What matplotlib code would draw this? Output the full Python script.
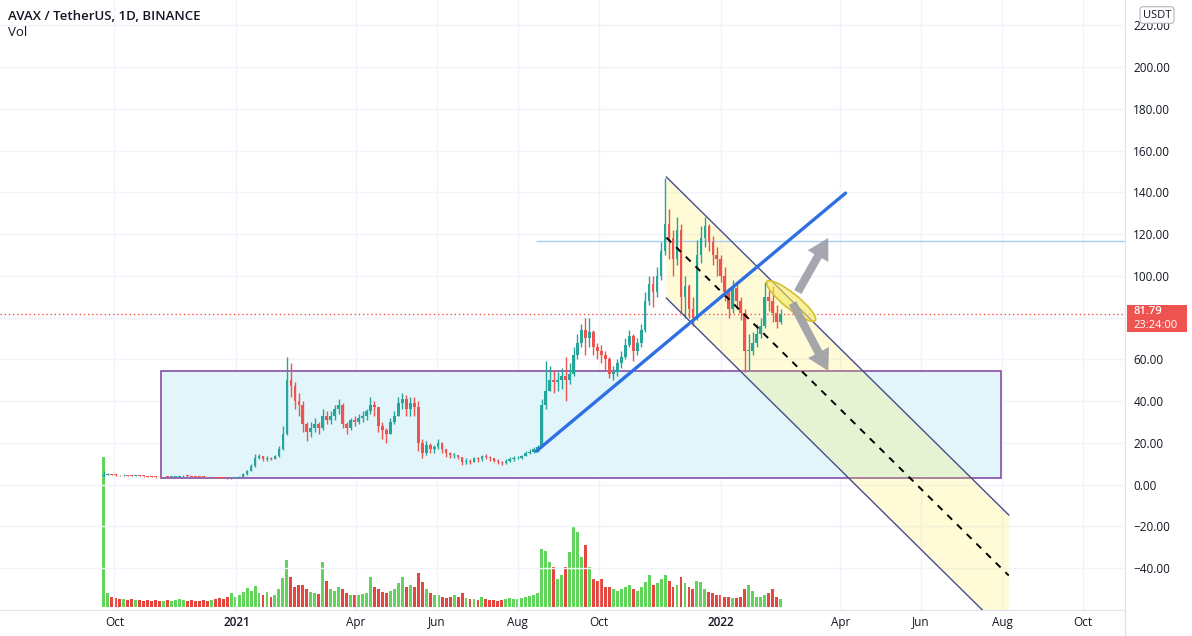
import numpy as np
import matplotlib.pyplot as plt
import matplotlib.dates as mdates
import matplotlib.patches as mpatches
import matplotlib.transforms as mtransforms
from matplotlib.lines import Line2D

# DATA -----------------------------------------------------------------------------------------------------------------
# AVAX/USDT, grouped into 3-day candles starting 2020-09-22
candle_start = '2020-09-22'
candle_days = 3
first_open = 4.0
close = [4.8, 4.9, 4.7, 4.5, 4.4, 4.6, 4.3, 4.2, 4.4, 4.1,
         4.0, 3.8, 3.6, 3.5, 3.4, 3.6, 3.5, 3.7, 3.8, 3.9,
         4.2, 4.0, 3.8, 3.7, 3.6, 3.5, 3.4, 3.5, 3.3, 3.2,
         3.1, 2.9, 3.0, 3.3, 3.6, 5.0, 6.5, 9.0, 12.5, 13.5,
         12.0, 12.8, 12.3, 13.5, 17.0, 24.0, 50.0, 47.0, 40.0, 38.0,
         29.0, 25.0, 27.0, 29.0, 27.0, 33.0, 31.0, 33.0, 36.0, 38.0,
         29.0, 27.0, 31.0, 30.0, 32.0, 33.0, 35.0, 38.0, 37.0, 28.0,
         26.0, 24.0, 30.0, 33.0, 39.0, 41.0, 36.0, 39.0, 37.0, 20.0,
         15.0, 19.0, 17.0, 18.0, 20.0, 17.0, 15.0, 14.0, 14.0, 13.0,
         11.0, 11.5, 11.0, 12.5, 12.0, 13.5, 13.0, 12.5, 11.5, 11.0,
         10.5, 11.5, 12.0, 12.5, 12.5, 13.5, 15.0, 15.5, 17.0, 18.0,
         38.0, 45.0, 50.0, 49.0, 50.0, 52.0, 50.0, 53.0, 62.0, 68.0,
         74.0, 70.0, 73.0, 66.0, 64.0, 62.0, 60.0, 53.0, 54.0, 58.0,
         61.0, 67.0, 71.0, 64.0, 68.0, 74.0, 88.0, 96.0, 92.0, 100.0,
         112.0, 125.0, 118.0, 108.0, 122.0, 90.0, 95.0, 84.0, 80.0, 110.0,
         118.0, 124.0, 116.0, 110.0, 108.0, 100.0, 92.0, 84.0, 94.0, 88.0,
         82.0, 64.0, 64.0, 68.0, 72.0, 76.0, 90.0, 88.0, 82.0, 78.0,
         81.79]
high = [6.5, 5.3, 5.1, 4.9, 4.8, 4.9, 4.7, 4.5, 4.6, 4.5,
        4.2, 4.1, 3.9, 3.7, 3.6, 3.8, 3.8, 3.9, 4.0, 4.1,
        4.5, 4.4, 4.1, 3.9, 3.8, 3.7, 3.6, 3.7, 3.6, 3.4,
        3.3, 3.2, 3.2, 3.5, 3.9, 5.4, 7.2, 10.0, 14.5, 14.8,
        13.8, 13.5, 13.2, 14.2, 18.5, 28.0, 61.0, 58.0, 49.0, 44.0,
        40.0, 30.0, 30.0, 32.0, 30.0, 36.0, 35.0, 35.0, 38.0, 41.0,
        39.0, 30.0, 32.0, 33.0, 34.0, 35.0, 36.0, 42.0, 40.0, 37.0,
        30.0, 27.0, 32.0, 35.0, 42.0, 44.0, 43.0, 42.0, 42.0, 40.0,
        22.0, 21.0, 20.0, 19.0, 22.0, 20.5, 17.0, 15.5, 15.0, 14.0,
        13.0, 12.5, 12.0, 13.0, 13.0, 14.0, 14.5, 13.5, 12.5, 12.0,
        11.5, 12.0, 13.0, 13.5, 13.5, 14.0, 16.0, 17.0, 18.0, 19.0,
        41.0, 59.0, 57.0, 55.0, 54.0, 56.0, 61.0, 58.0, 66.0, 72.0,
        77.0, 80.0, 80.0, 74.0, 68.0, 67.0, 64.0, 61.0, 57.0, 60.0,
        64.0, 70.0, 74.0, 72.0, 70.0, 77.0, 92.0, 100.0, 100.0, 104.0,
        116.0, 147.0, 132.0, 122.0, 128.0, 125.0, 100.0, 96.0, 90.0, 117.0,
        124.0, 128.0, 125.0, 119.0, 114.0, 110.0, 104.0, 94.0, 98.0, 96.0,
        90.0, 84.0, 72.0, 73.0, 77.0, 80.0, 97.0, 93.0, 95.0, 86.0,
        84.0]
low = [3.8, 4.5, 4.4, 4.3, 4.2, 4.2, 4.1, 4.0, 4.1, 3.9,
       3.8, 3.6, 3.4, 3.3, 3.2, 3.3, 3.3, 3.4, 3.6, 3.7,
       3.8, 3.8, 3.6, 3.5, 3.4, 3.3, 3.2, 3.2, 3.1, 3.0,
       2.9, 2.7, 2.8, 2.9, 3.2, 3.5, 4.8, 6.3, 8.6, 12.0,
       11.2, 11.5, 11.6, 12.0, 13.2, 16.5, 23.5, 42.0, 36.0, 33.0,
       25.0, 21.0, 23.0, 25.0, 24.0, 26.0, 29.0, 29.0, 31.0, 34.0,
       27.0, 24.0, 26.0, 28.0, 29.0, 30.0, 31.0, 34.0, 33.0, 25.0,
       22.0, 20.0, 24.0, 29.0, 33.0, 36.0, 33.0, 33.0, 33.0, 16.0,
       12.5, 14.0, 15.0, 15.0, 17.0, 15.0, 13.0, 12.5, 12.5, 12.0,
       9.5, 10.0, 10.0, 11.0, 11.0, 11.5, 12.0, 11.5, 11.0, 10.0,
       9.5, 10.0, 11.0, 11.5, 12.0, 12.0, 13.5, 14.5, 15.0, 15.5,
       18.0, 36.0, 45.0, 44.0, 45.0, 46.0, 40.0, 48.0, 52.0, 60.0,
       66.0, 62.0, 66.0, 62.0, 60.0, 58.0, 55.0, 51.0, 50.0, 52.0,
       56.0, 60.0, 66.0, 59.0, 62.0, 66.0, 73.0, 86.0, 85.0, 90.0,
       98.0, 110.0, 108.0, 100.0, 105.0, 82.0, 80.0, 80.0, 76.0, 79.0,
       106.0, 114.0, 112.0, 105.0, 100.0, 97.0, 88.0, 80.0, 82.0, 84.0,
       79.0, 54.0, 55.0, 62.0, 66.0, 70.0, 75.0, 83.0, 78.0, 75.0,
       77.0]
# relative volume (typical daily bar height of each 3-day group)
volume = [150, 14, 10, 9, 8, 8, 7, 8, 7, 7,
          6, 7, 6, 7, 6, 6, 7, 6, 7, 8,
          7, 6, 7, 6, 6, 7, 6, 7, 8, 9,
          8, 10, 14, 10, 12, 15, 19, 16, 21, 14,
          12, 15, 10, 12, 18, 29, 47, 30, 20, 22,
          22, 18, 15, 14, 13, 45, 26, 18, 16, 20,
          18, 14, 12, 12, 12, 13, 14, 30, 20, 18,
          15, 14, 16, 18, 24, 30, 20, 22, 20, 34,
          25, 18, 14, 12, 12, 10, 9, 10, 12, 10,
          14, 9, 8, 8, 7, 10, 8, 7, 7, 6,
          7, 8, 9, 8, 8, 9, 10, 11, 12, 14,
          58, 56, 45, 40, 28, 32, 40, 55, 80, 75,
          50, 62, 40, 28, 26, 28, 20, 20, 18, 16,
          18, 20, 22, 18, 16, 20, 25, 32, 22, 24,
          28, 32, 26, 20, 22, 30, 24, 20, 18, 26,
          25, 18, 15, 14, 12, 12, 10, 10, 9, 9,
          10, 18, 22, 16, 10, 10, 12, 14, 18, 10,
          8]
last_price = 81.79
countdown = '23:24:00'

price_ticks = [-40, -20, 0, 20, 40, 60, 80, 100, 120, 140, 160, 180, 200, 220]
time_ticks = ['2020-10-01', '2021-01-01', '2021-04-01', '2021-06-01', '2021-08-01', '2021-10-01',
              '2022-01-01', '2022-04-01', '2022-06-01', '2022-08-01', '2022-10-01']
time_labels = ['Oct', '2021', 'Apr', 'Jun', 'Aug', 'Oct', '2022', 'Apr', 'Jun', 'Aug', 'Oct']

# drawings on the chart (date, price anchors)
box_dates = ['2020-11-05', '2022-07-31']
box_prices = [3.1, 54.4]
trend_dates = ['2021-08-15', '2022-04-05']
trend_prices = [16.0, 139.6]
hline_start = '2021-08-15'
hline_price = 116.6
channel_dates = ['2021-11-21', '2022-08-06']
channel_top = [147.3, -14.6]
channel_bottom = [89.3, -72.6]
ellipse_date = '2022-02-23'
ellipse_price = 87.9
arrow_up = [('2022-02-28', 92.2), ('2022-03-23', 118.1)]
arrow_down = [('2022-02-24', 86.9), ('2022-03-23', 54.4)]

# STYLE ----------------------------------------------------------------------------------------------------------------
plt.rcParams['font.family'] = ['Open Sans', 'DejaVu Sans']
up_col, down_col = '#26a69a', '#ef5350'
vol_up, vol_down = '#62d45c', '#e5463f'
text_col = '#131722'


def dnum(s):
    return mdates.date2num(np.datetime64(s))


# FIGURE ---------------------------------------------------------------------------------------------------------------
fig = plt.figure(figsize=(11.92, 6.36), dpi=100)
ax = fig.add_axes([0, 26 / 636, 1125 / 1192, 610 / 636])
vol_ax = ax.twinx()
ax.set_zorder(vol_ax.get_zorder() + 1)
ax.patch.set_visible(False)

n = len(close)
xs = dnum(candle_start) + candle_days * np.arange(n) + 1
opens = np.array([first_open] + close[:-1])
closes = np.array(close)
ups = closes >= opens
cols = np.where(ups, up_col, down_col)

# volume, drawn behind the price
vol_ax.bar(xs, volume, width=2.2, color=np.where(ups, vol_up, vol_down), linewidth=0)
vol_ax.set_ylim(-3, 607)
vol_ax.yaxis.set_visible(False)
for s in vol_ax.spines.values():
    s.set_visible(False)

# box
bx0, bx1 = dnum(box_dates[0]), dnum(box_dates[1])
ax.add_patch(mpatches.Rectangle((bx0, box_prices[0]), bx1 - bx0, box_prices[1] - box_prices[0],
                                facecolor='#e1f5fa', edgecolor='#7f3f9f', linewidth=1.1, zorder=1))

# parallel channel
cx = [dnum(d) for d in channel_dates]
ax.fill([cx[0], cx[1], cx[1], cx[0]], [channel_top[0], channel_top[1], channel_bottom[1], channel_bottom[0]],
        color='#ffeb3b', alpha=0.2, linewidth=0, zorder=1.5)
ax.plot(cx, channel_top, color='#454e8e', linewidth=1, zorder=4)
ax.plot(cx, channel_bottom, color='#454e8e', linewidth=1, zorder=4)
ax.plot(cx, [(a + b) / 2 for a, b in zip(channel_top, channel_bottom)], color='black',
        linewidth=1.4, linestyle=(0, (3.5, 3.5)), zorder=4)

# candles
ax.vlines(xs, low, high, colors=cols, linewidth=1, zorder=3)
body = np.maximum(np.abs(closes - opens), 0.4)
ax.bar(xs, body, bottom=np.minimum(opens, closes), width=2.0, color=cols, linewidth=0, zorder=3)

# horizontal level, trend line and last price line
ax.hlines(hline_price, dnum(hline_start), dnum('2023-01-01'), color='#a8cdf0', linewidth=1, zorder=2)
ax.plot([dnum(d) for d in trend_dates], trend_prices, color='#2f6fe4', linewidth=2.4,
        solid_capstyle='round', zorder=5)
ax.axhline(last_price, color='#ef5350', linewidth=1, linestyle=(0, (1, 2)), zorder=2)

# ellipse and arrows
ell_trans = fig.dpi_scale_trans + mtransforms.ScaledTranslation(dnum(ellipse_date), ellipse_price, ax.transData)
ax.add_patch(mpatches.Ellipse((0, 0), 0.62, 0.15, angle=-39, transform=ell_trans,
                              facecolor=(0.97, 0.91, 0.36, 0.6), edgecolor='#d3c034', linewidth=1.2, zorder=6))
for arr in [arrow_up, arrow_down]:
    (d0, p0), (d1, p1) = arr
    ax.annotate('', xy=(dnum(d1), p1), xytext=(dnum(d0), p0), zorder=7,
                arrowprops=dict(arrowstyle='simple,head_length=1.5,head_width=1.7,tail_width=0.6',
                                mutation_scale=10, color='#9b9da6', alpha=0.9, shrinkA=0, shrinkB=0,
                                linewidth=0))

# axes
ax.set_xlim(dnum('2021-01-01') - 178.2, dnum('2021-01-01') + 669.6)
ax.set_ylim(-60.1, 232.1)
vol_ax.set_xlim(ax.get_xlim())
ax.yaxis.tick_right()
ax.set_yticks(price_ticks)
# the 80.00 label sits under the last-price tag, so it is left blank
ax.set_yticklabels(['' if v == 80 else f'{v:.2f}'.replace('-', '\u2212') for v in price_ticks])
ax.set_xticks([dnum(d) for d in time_ticks])
ax.set_xticklabels(time_labels)
for lab in ax.get_xticklabels():
    if lab.get_text().isdigit():
        lab.set_fontweight('semibold')
ax.tick_params(axis='y', length=0, pad=6, labelsize=8.5, labelcolor=text_col)
ax.tick_params(axis='x', length=0, pad=4, labelsize=8.5, labelcolor=text_col)
ax.grid(color='#f0f3fa', linewidth=1)
ax.set_axisbelow(True)
for side in ['left', 'top']:
    ax.spines[side].set_visible(False)
for side in ['right', 'bottom']:
    ax.spines[side].set_color('#e0e3eb')
fig.add_artist(Line2D([1125 / 1192] * 2, [0, 26 / 636], color='#e0e3eb', linewidth=1))

# labels
fig.text(8 / 1192, 1 - 16 / 636, 'AVAX / TetherUS, 1D, BINANCE', fontsize=9.5, fontweight='semibold',
         color=text_col, va='center')
fig.text(8 / 1192, 1 - 33 / 636, 'Vol', fontsize=9.5, color=text_col, va='center')
fig.text(1157 / 1192, 1 - 15 / 636, 'USDT', fontsize=8, color=text_col, ha='center', va='center',
         bbox=dict(boxstyle='round,pad=0.25', facecolor='white', edgecolor='#b2b5be', linewidth=0.8))
fig.add_artist(mpatches.Rectangle((1127 / 1192, 1 - 332 / 636), 60 / 1192, 27 / 636,
                                  transform=fig.transFigure, facecolor='#ef5350', edgecolor='none', zorder=10))
fig.text(1133 / 1192, 1 - 311.5 / 636, f'{last_price:.2f}', fontsize=8, fontweight='semibold',
         color='white', va='center', zorder=11)
fig.text(1133 / 1192, 1 - 325.5 / 636, countdown, fontsize=8, color='white', va='center', zorder=11)

fig.savefig('out.png', dpi=100)
